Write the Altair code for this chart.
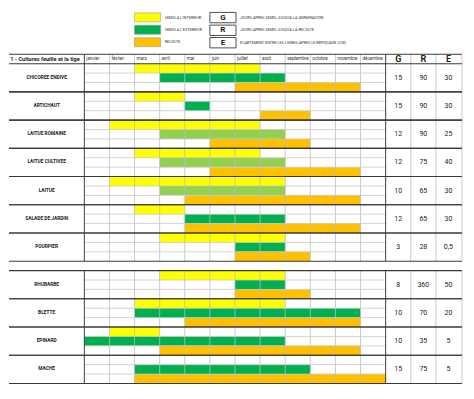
import altair as alt
import pandas as pd

# ---------------- data ----------------
months = ["janvier", "février", "mars", "avril", "mai", "juin", "juillet",
          "août", "septembre", "octobre", "novembre", "décembre"]
plants = ["CHICOREE ENDIVE", "ARTICHAUT", "LAITUE ROMAINE", "LAITUE CULTIVEE",
          "LAITUE", "SALADE DE JARDIN", "POURPIER",
          "RHUBARBE", "BLETTE", "EPINARD", "MACHE"]
group = [1, 1, 1, 1, 1, 1, 1, 2, 2, 2, 2]
# (first month, last month), inclusive
semis_int = [(3, 7), (3, 4), (2, 7), (3, 7), (2, 8), (3, 4), (4, 8),
             (4, 8), (3, 8), (2, 3), None]
semis_ext = [(4, 8), (5, 5), (4, 8), (4, 8), (4, 8), (5, 8), (7, 8),
             (7, 8), (3, 11), (1, 8), (3, 9)]
ext_light = [False, False, True, True, True, False, False,
             False, False, False, False]
recolte = [(7, 11), (8, 9), (6, 9), (6, 11), (5, 11), (5, 11), (7, 9),
           (7, 9), (5, 11), (4, 11), (3, 12)]
G = ["15", "15", "12", "12", "10", "12", "3", "8", "10", "10", "15"]
R = ["90", "90", "90", "75", "65", "65", "28", "360", "70", "35", "75"]
E = ["30", "30", "25", "40", "30", "30", "0,5", "50", "20", "5", "5"]

header_title = "1 - Cultures feuille et la tige"
legend_colors = ["SEMIS A L'INTERIEUR", "SEMIS A L'EXTERIEUR", "RECOLTE"]
legend_codes = ["G", "R", "E"]
legend_code_text = ["JOURS APRES SEMIS JUSQU'A LA GERMINATION",
                    "JOURS APRES SEMIS JUSQU'A LA RECOLTE",
                    "ECARTEMENT ENTRE LES LIGNES APRES LE REPIQUAGE (CM)"]

kinds = ["int", "ext", "ext_light", "rec"]
kind_colors = ["#FFFF00", "#00B050", "#92D050", "#FFC000"]

FONT = "Roboto"

# ---------------- tables ----------------
def row0(i):
    return i * 3 + (1 if group[i] == 2 else 0)

bars = []
for i, p in enumerate(plants):
    r = row0(i)
    for k, per in enumerate([semis_int[i], semis_ext[i], recolte[i]]):
        if per is None:
            continue
        kind = ["int", "ext", "rec"][k]
        if k == 1 and ext_light[i]:
            kind = "ext_light"
        bars.append(dict(x=per[0] - 1, x2=per[1], y=r + k, y2=r + k + 1, kind=kind))
bars = pd.DataFrame(bars)

n1 = sum(1 for g in group if g == 1) * 3
n_end = row0(len(plants) - 1) + 3
segments = [(-1, n1), (n1 + 1, n_end)]
table_right = 15.04

# vertical grid lines
vl_light, vl_dark = [], []
for (a, b) in segments:
    for m in range(1, 12):
        vl_light.append(dict(x=m, y=a, y2=b))
    for m in [13, 14, table_right]:
        vl_light.append(dict(x=m, y=a, y2=b))
    for m in [0, 12]:
        vl_dark.append(dict(x=m, y=a, y2=b))
vl_light = pd.DataFrame(vl_light)
vl_dark = pd.DataFrame(vl_dark)

# horizontal lines
hl_light, hl_dark = [], []
for i in range(len(plants)):
    r = row0(i)
    for k in (1, 2):
        hl_light.append(dict(y=r + k, x=0, x2=12))
    hl_dark.append(dict(y=r, x=-3, x2=table_right))
    hl_dark.append(dict(y=r + 3, x=-3, x2=table_right))
hl_dark.append(dict(y=-1, x=-3, x2=table_right))
hl_light = pd.DataFrame(hl_light)
hl_dark = pd.DataFrame(hl_dark)

# texts
month_txt = pd.DataFrame(dict(x=[m + 0.08 for m in range(12)], y=[-0.5] * 12, t=months))
grehead = pd.DataFrame(dict(x=[12.5, 13.5, 14.5], y=[-0.5] * 3, t=legend_codes))
title_txt = pd.DataFrame(dict(x=[-2.95], y=[-0.5], t=[header_title]))
plant_txt = pd.DataFrame(dict(x=[-1.5] * len(plants), y=[row0(i) + 1.5 for i in range(len(plants))], t=plants))
vals = []
for i in range(len(plants)):
    for j, col in enumerate([G, R, E]):
        vals.append(dict(x=12.5 + j, y=row0(i) + 1.5, t=col[i]))
vals = pd.DataFrame(vals)

# legend
leg_y = [-5.4, -4.08, -2.76]
leg_boxes = pd.DataFrame(dict(x=[2] * 3, x2=[3.04] * 3, y=leg_y,
                              y2=[v + 0.95 for v in leg_y],
                              kind=["int", "ext", "rec"]))
leg_box_txt = pd.DataFrame(dict(x=[3.2] * 3, y=[v + 0.5 for v in leg_y], t=legend_colors))
code_y = [-5.45, -4.1, -2.78]
code_boxes = pd.DataFrame(dict(x=[5] * 3, x2=[6.04] * 3, y=code_y, y2=[v + 1.1 for v in code_y]))
code_letters = pd.DataFrame(dict(x=[5.52] * 3, y=[v + 0.55 for v in code_y], t=legend_codes))
code_txt = pd.DataFrame(dict(x=[6.2] * 3, y=[v + 0.55 for v in code_y], t=legend_code_text))

# ---------------- chart ----------------
xs = alt.Scale(domain=[-3, 15.2], nice=False, zero=False)
ys = alt.Scale(domain=[-5.92, 34.8], nice=False, zero=False, reverse=True)
X = lambda f="x": alt.X(f + ":Q", scale=xs, axis=None)
Y = lambda f="y": alt.Y(f + ":Q", scale=ys, axis=None)
color = alt.Color("kind:N", scale=alt.Scale(domain=kinds, range=kind_colors), legend=None)

bar_layer = alt.Chart(bars).mark_rect().encode(x=X(), x2="x2", y=Y(), y2="y2", color=color)
vlight = alt.Chart(vl_light).mark_rule(color="#bdbdbd", strokeWidth=0.8).encode(x=X(), y=Y(), y2="y2")
vdark = alt.Chart(vl_dark).mark_rule(color="#404040", strokeWidth=1).encode(x=X(), y=Y(), y2="y2")
hlight = alt.Chart(hl_light).mark_rule(color="#c8c8c8", strokeWidth=0.8).encode(y=Y(), x=X(), x2="x2")
hdark = alt.Chart(hl_dark).mark_rule(color="#3a3a3a", strokeWidth=1.1).encode(y=Y(), x=X(), x2="x2")

m_layer = alt.Chart(month_txt).mark_text(align="left", baseline="middle", fontSize=4.5, font=FONT, color="#333").encode(x=X(), y=Y(), text="t:N")
g_layer = alt.Chart(grehead).mark_text(align="center", baseline="middle", fontSize=9, fontWeight="bold", font=FONT, color="#222").encode(x=X(), y=Y(), text="t:N")
t_layer = alt.Chart(title_txt).mark_text(align="left", baseline="middle", fontSize=5.6, fontWeight="bold", font=FONT, color="#222").encode(x=X(), y=Y(), text="t:N")
p_layer = alt.Chart(plant_txt).mark_text(align="center", baseline="middle", fontSize=4.8, fontWeight="bold", font=FONT, color="#222").encode(x=X(), y=Y(), text="t:N")
v_layer = alt.Chart(vals).mark_text(align="center", baseline="middle", fontSize=7, font=FONT, color="#222").encode(x=X(), y=Y(), text="t:N")

lb = alt.Chart(leg_boxes).mark_rect(stroke="#8a8a8a", strokeWidth=0.5).encode(x=X(), x2="x2", y=Y(), y2="y2", color=color)
lbt = alt.Chart(leg_box_txt).mark_text(align="left", baseline="middle", fontSize=3.8, font=FONT, color="#333").encode(x=X(), y=Y(), text="t:N")
cb = alt.Chart(code_boxes).mark_rect(fill="white", stroke="#222", strokeWidth=0.8).encode(x=X(), x2="x2", y=Y(), y2="y2")
cl = alt.Chart(code_letters).mark_text(align="center", baseline="middle", fontSize=8, fontWeight="bold", font=FONT, color="#222").encode(x=X(), y=Y(), text="t:N")
ct = alt.Chart(code_txt).mark_text(align="left", baseline="middle", fontSize=3.8, font=FONT, color="#333").encode(x=X(), y=Y(), text="t:N")

chart = alt.layer(
    bar_layer, vlight, hlight, vdark, hdark,
    m_layer, g_layer, t_layer, p_layer, v_layer,
    lb, lbt, cb, cl, ct,
).properties(
    width=458, height=383,
    autosize=alt.AutoSizeParams(type="fit", contains="padding"),
    padding=0,
    background="white",
).configure_view(stroke=None)

chart.save("out.html", embed_options={"renderer": "svg", "actions": False})
